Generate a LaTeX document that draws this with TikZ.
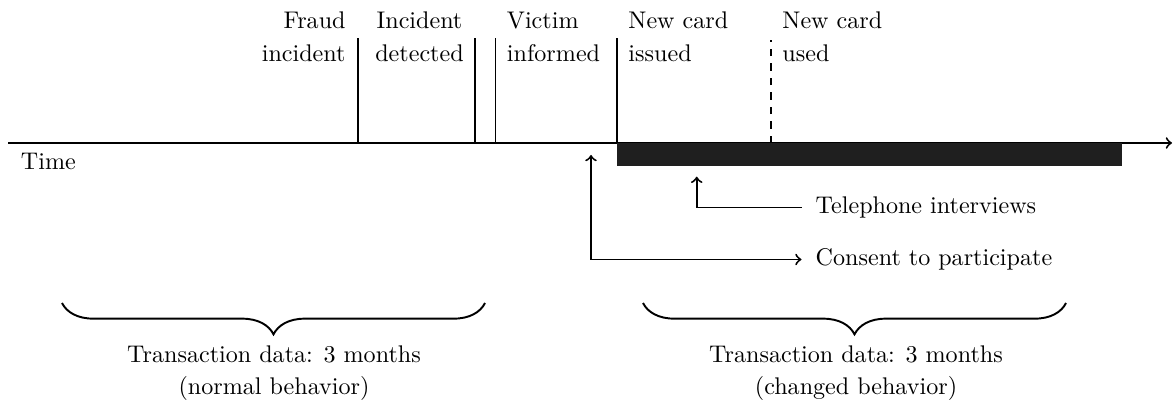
\documentclass[tikz,border=0pt]{standalone}
\usetikzlibrary{decorations.pathreplacing}
\begin{document}
\begin{tikzpicture}[x=0.415pt, y=-0.415pt, line width=0.8pt,
  evlabel/.style={inner sep=0pt, font=\fontsize{10pt}{13.7pt}\selectfont},
  sumlabel/.style={inner sep=0pt, anchor=north, align=center,
    font=\fontsize{10pt}{13.1pt}\selectfont},
  note/.style={inner sep=5.5pt, anchor=west},
  bracebelow/.style={decorate, decoration={brace, amplitude=13pt}}]
\useasboundingbox (0,0) rectangle (1174,402);

% time axis
\coordinate (t0) at (8,143);
\coordinate (t1) at (1172,143);
\draw[->] (t0) -- (t1);
\node[inner sep=0pt, anchor=base west] (time) at (20,170) {Time};

% period covered by the interviews
\coordinate (barA) at (617,143);
\coordinate (barB) at (1121.7,166);
\fill[black!88] (barA) rectangle (barB);

% events on the axis
\coordinate (e1) at (358,143);   \coordinate (e1t) at (358,38);
\coordinate (e2) at (475,143);   \coordinate (e2t) at (475,38);
\coordinate (e3) at (495.5,143); \coordinate (e3t) at (495.5,38);
\coordinate (e4) at (617,143);   \coordinate (e4t) at (617,38);
\coordinate (e5) at (771,143);   \coordinate (e5t) at (771,40);
\draw (e1) -- (e1t);
\draw (e2) -- (e2t);
\draw (e3) -- (e3t);
\draw (e4) -- (e4t);
\draw[dashed] (e5) -- (e5t);

\node[evlabel, anchor=south east, align=right] (fraud) at (346.5,63) {Fraud\\incident};
\node[evlabel, anchor=south, align=center] (detect) at (419.5,63) {Incident\\detected};
\node[evlabel, anchor=south west, align=left] (inform) at (506,63) {Victim\\informed};
\node[evlabel, anchor=south west, align=left] (issue) at (627.5,63) {New card\\issued};
\node[evlabel, anchor=south west, align=left] (used) at (781.5,63) {New card\\used};

% interviews and consent
\node[note] (tel) at (801.5,207.5) {Telephone interviews};
\node[note] (consent) at (801.5,259.5) {Consent to participate};
\coordinate (telTip) at (696.7,176.7);
\coordinate (consTip) at (591,155);
\draw[->] (tel.west) -| (telTip);
\draw[<->] (consTip) |- (consent.west);

% transaction data windows
\coordinate (b1l) at (62,303);  \coordinate (b1r) at (485,303);
\coordinate (b2l) at (643,303); \coordinate (b2r) at (1066,303);
\draw[bracebelow] (b1r) -- (b1l);
\draw[bracebelow] (b2r) -- (b2l);
\node[sumlabel] (normal) at (274,345.3) {Transaction data: 3 months\\(normal behavior)};
\node[sumlabel] (changed) at (856,345.3) {Transaction data: 3 months\\(changed behavior)};
\end{tikzpicture}
\end{document}
